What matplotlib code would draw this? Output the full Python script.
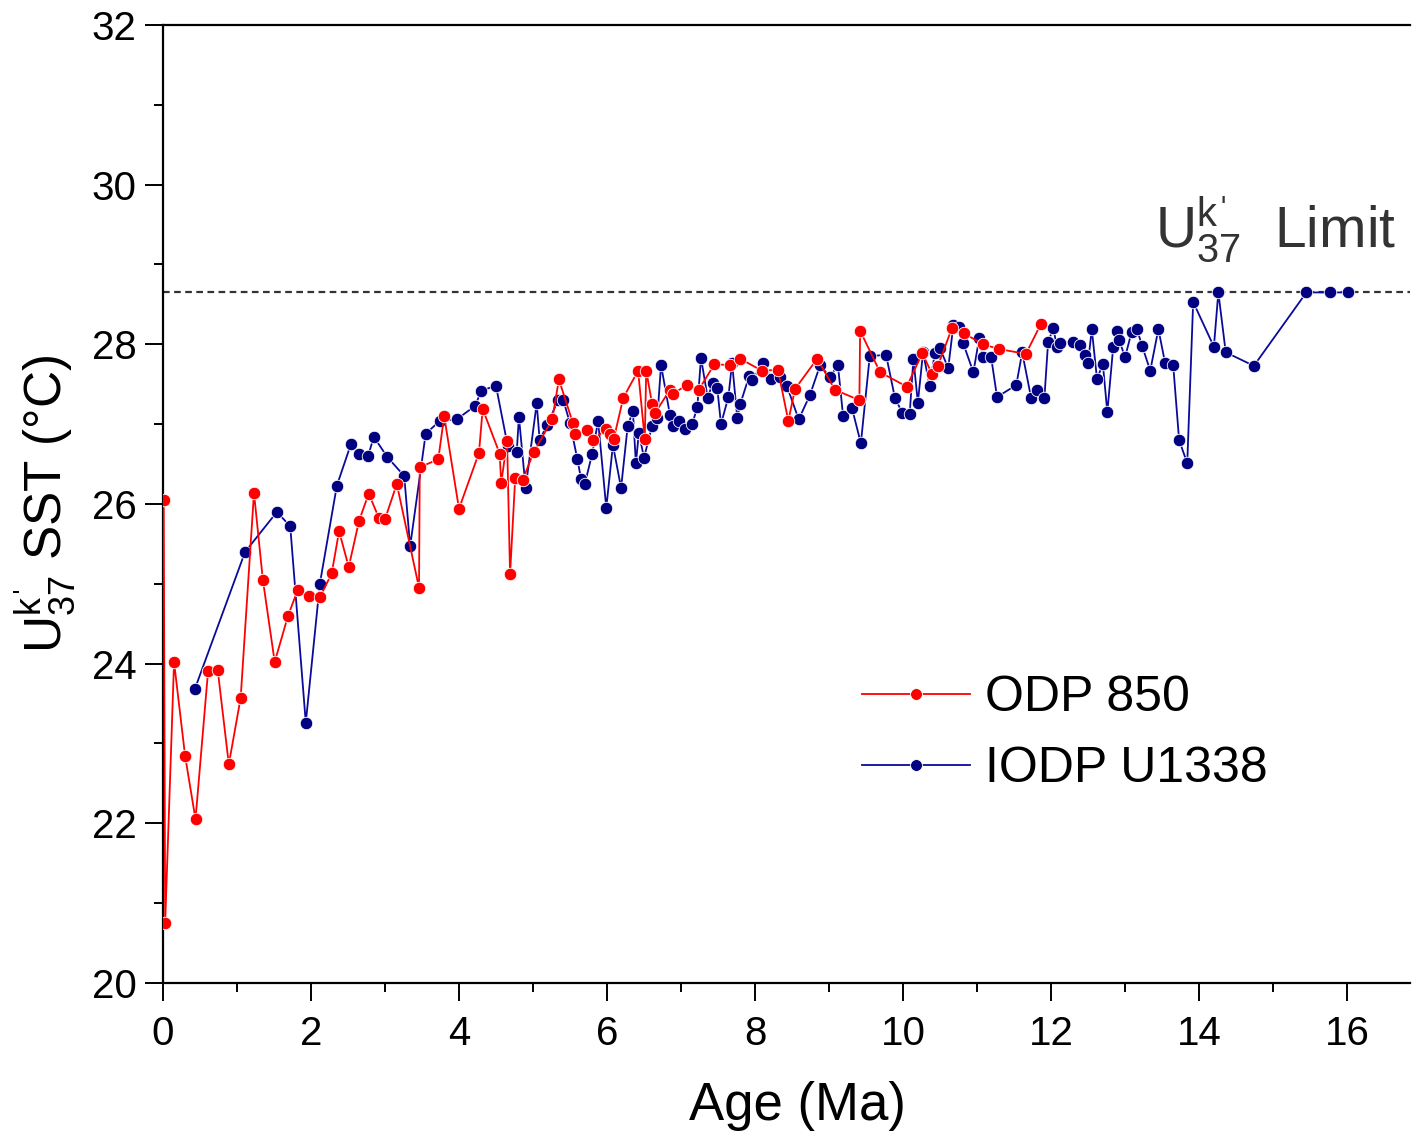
import numpy as np
import matplotlib.pyplot as plt
from matplotlib.ticker import MultipleLocator

plt.rcParams['font.family'] = ['Liberation Sans', 'DejaVu Sans']
plt.rcParams['mathtext.fontset'] = 'custom'
plt.rcParams['mathtext.rm'] = 'Liberation Sans'
plt.rcParams['mathtext.it'] = 'Liberation Sans'

# ODP 850 (age Ma, SST degC)
odp_age = [0.01, 0.03, 0.15, 0.30, 0.44, 0.61, 0.74, 0.89, 1.05, 1.23, 1.35, 1.51,
           1.69, 1.82, 1.97, 2.12, 2.28, 2.38, 2.51, 2.65, 2.78, 2.92, 3.00, 3.16,
           3.46, 3.47, 3.72, 3.80, 4.00, 4.27, 4.32, 4.55, 4.57, 4.65, 4.69, 4.76,
           4.86, 5.01, 5.26, 5.35, 5.54, 5.57, 5.73, 5.81, 5.99, 6.04, 6.09, 6.22,
           6.42, 6.51, 6.53, 6.61, 6.65, 6.85, 6.89, 7.08, 7.24, 7.45, 7.66, 7.80,
           8.09, 8.31, 8.45, 8.54, 8.84, 9.08, 9.41, 9.42, 9.69, 10.05, 10.26, 10.39,
           10.47, 10.66, 10.82, 11.08, 11.30, 11.66, 11.86]
odp_sst = [26.05, 20.75, 24.02, 22.84, 22.05, 23.91, 23.92, 22.74, 23.57, 26.14, 25.05, 24.02,
           24.60, 24.92, 24.85, 24.83, 25.13, 25.66, 25.21, 25.79, 26.13, 25.82, 25.81, 26.25,
           24.95, 26.46, 26.56, 27.10, 25.94, 26.64, 27.19, 26.63, 26.26, 26.79, 25.12, 26.33,
           26.30, 26.65, 27.06, 27.56, 27.01, 26.88, 26.93, 26.80, 26.94, 26.88, 26.81, 27.33,
           27.67, 26.81, 27.67, 27.25, 27.14, 27.43, 27.38, 27.49, 27.43, 27.75, 27.74, 27.82,
           27.67, 27.68, 27.04, 27.44, 27.82, 27.43, 27.30, 28.17, 27.65, 27.47, 27.89, 27.63,
           27.73, 28.20, 28.14, 28.00, 27.94, 27.88, 28.25]

# IODP U1338
iodp_age = [0.43, 1.11, 1.54, 1.72, 1.93, 2.12, 2.35, 2.54, 2.65, 2.77, 2.85, 3.03,
            3.26, 3.34, 3.55, 3.74, 3.97, 4.22, 4.30, 4.50, 4.66, 4.78, 4.81, 4.90,
            5.05, 5.09, 5.19, 5.34, 5.41, 5.50, 5.60, 5.65, 5.70, 5.80, 5.88, 5.99,
            6.08, 6.19, 6.28, 6.35, 6.39, 6.43, 6.50, 6.61, 6.68, 6.73, 6.85, 6.89,
            6.97, 7.05, 7.15, 7.22, 7.27, 7.36, 7.43, 7.49, 7.54, 7.64, 7.69, 7.76,
            7.80, 7.92, 7.96, 8.11, 8.22, 8.34, 8.43, 8.59, 8.74, 8.88, 9.01, 9.12,
            9.19, 9.31, 9.43, 9.55, 9.77, 9.89, 9.99, 10.09, 10.14, 10.20, 10.27, 10.36,
            10.43, 10.50, 10.61, 10.68, 10.76, 10.81, 10.95, 11.03, 11.08, 11.19, 11.27, 11.53,
            11.61, 11.73, 11.81, 11.91, 11.96, 12.03, 12.08, 12.12, 12.30, 12.39, 12.46, 12.50,
            12.55, 12.62, 12.70, 12.76, 12.84, 12.89, 12.92, 13.00, 13.09, 13.16, 13.23, 13.34,
            13.45, 13.54, 13.65, 13.73, 13.84, 13.92, 14.20, 14.26, 14.36, 14.74, 15.45, 15.77,
            16.01]
iodp_sst = [23.68, 25.40, 25.90, 25.72, 23.26, 25.00, 26.23, 26.75, 26.63, 26.60, 26.84, 26.59,
            26.35, 25.47, 26.88, 27.04, 27.06, 27.23, 27.42, 27.48, 26.72, 26.65, 27.09, 26.20,
            27.26, 26.80, 26.99, 27.30, 27.30, 27.01, 26.56, 26.31, 26.25, 26.63, 27.04, 25.95,
            26.74, 26.20, 26.98, 27.16, 26.51, 26.89, 26.58, 26.98, 27.08, 27.74, 27.12, 26.98,
            27.04, 26.94, 27.00, 27.21, 27.83, 27.33, 27.52, 27.45, 27.00, 27.34, 27.77, 27.08,
            27.25, 27.60, 27.55, 27.77, 27.57, 27.59, 27.48, 27.06, 27.36, 27.74, 27.59, 27.74,
            27.10, 27.20, 26.76, 27.85, 27.87, 27.33, 27.14, 27.13, 27.82, 27.27, 27.90, 27.48,
            27.89, 27.95, 27.70, 28.24, 28.22, 28.02, 27.65, 28.08, 27.84, 27.84, 27.34, 27.49,
            27.90, 27.33, 27.43, 27.33, 28.03, 28.20, 27.97, 28.02, 28.03, 27.99, 27.87, 27.77,
            28.19, 27.57, 27.75, 27.15, 27.97, 28.17, 28.05, 27.84, 28.16, 28.19, 27.98, 27.67,
            28.19, 27.77, 27.74, 26.80, 26.51, 28.53, 27.97, 28.65, 27.90, 27.73, 28.65, 28.65,
            28.65]

uk37_limit = 28.65

fig = plt.figure(figsize=(14.12, 11.31), dpi=100)
ax = fig.add_axes([0.1154, 0.1309, 0.8832, 0.847])

ax.axhline(uk37_limit, color='#333333', lw=1.6, ls=(0, (3, 2)), zorder=1)

ax.plot(odp_age, odp_sst, color='#ff0000', lw=1.3, marker='o', ms=9,
        mec='white', mew=0.6, label='ODP 850', zorder=3)
ax.plot(iodp_age, iodp_sst, color='#0a0a9a', mfc='#000080', lw=1.3, marker='o', ms=9,
        mec='white', mew=0.6, label='IODP U1338', zorder=2)

ax.set_xlim(0, 16.85)
ax.set_ylim(20, 32)
ax.xaxis.set_major_locator(MultipleLocator(2))
ax.xaxis.set_minor_locator(MultipleLocator(1))
ax.yaxis.set_major_locator(MultipleLocator(2))
ax.yaxis.set_minor_locator(MultipleLocator(1))
ax.tick_params(which='major', direction='out', length=13, width=1.4, labelsize=29)
ax.tick_params(which='minor', direction='out', length=6.5, width=1.4)
ax.tick_params(axis='x', which='major', pad=10)
ax.tick_params(axis='y', which='major', pad=6)
ax.spines['right'].set_visible(False)
for s in ['left', 'bottom', 'top']:
    ax.spines[s].set_linewidth(1.6)

prime = '\u02c8'
ax.set_xlabel('Age (Ma)', fontsize=38)
ax.xaxis.set_label_coords(0.509, -0.102)
ax.set_ylabel(r"U$^{\mathregular{k" + prime + r"}}_{\mathregular{37}}$ SST (°C)",
              fontsize=37, labelpad=10)

ax.text(13.4, 29.45, r"U$^{\mathregular{k" + prime + r"}}_{\mathregular{37}}$  Limit",
        fontsize=41, color='#333333', ha='left', va='center')

ax.legend(loc='center left', bbox_to_anchor=(0.5405, 0.2604), frameon=False, fontsize=36,
          borderpad=0, handlelength=2.16, handletextpad=0.3, labelspacing=0.5,
          markerscale=0.95)

fig.savefig('out.png', dpi=100)
